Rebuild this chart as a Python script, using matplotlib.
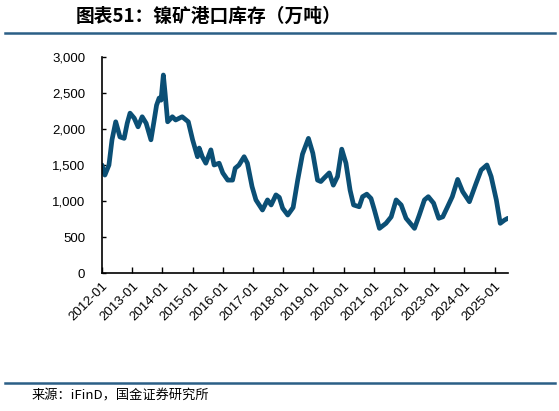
import matplotlib
matplotlib.use("Agg")
import matplotlib.pyplot as plt
import matplotlib.dates as mdates
import pandas as pd

dates = ["2012-01-01", "2012-02-05", "2012-03-25", "2012-05-01", "2012-06-15",
         "2012-08-05", "2012-09-25", "2012-11-01", "2012-12-05",
         "2013-01-25", "2013-03-12", "2013-05-01", "2013-06-18", "2013-08-15",
         "2013-09-20", "2013-10-22", "2013-11-22", "2013-12-15",
         "2014-01-12", "2014-02-02", "2014-03-05", "2014-05-01", "2014-06-10",
         "2014-08-28", "2014-11-10",
         "2015-01-01", "2015-03-01", "2015-03-22", "2015-04-28", "2015-06-10",
         "2015-08-10", "2015-09-18", "2015-11-18",
         "2016-01-01", "2016-03-01", "2016-04-28", "2016-05-30", "2016-07-15",
         "2016-09-15", "2016-10-25", "2016-12-20",
         "2017-02-05", "2017-04-25", "2017-06-25", "2017-08-08", "2017-10-05",
         "2017-11-15", "2017-12-25",
         "2018-02-25", "2018-05-01", "2018-06-25", "2018-08-22", "2018-11-02",
         "2018-12-25",
         "2019-02-20", "2019-04-01", "2019-05-12", "2019-07-12", "2019-08-30",
         "2019-10-20", "2019-12-10",
         "2020-01-30", "2020-03-20", "2020-05-01", "2020-07-08", "2020-08-18",
         "2020-10-08", "2020-11-28",
         "2021-01-08", "2021-03-10", "2021-05-28", "2021-07-30", "2021-09-28",
         "2021-11-28",
         "2022-01-26", "2022-05-08", "2022-07-05", "2022-09-05", "2022-10-22",
         "2022-12-25",
         "2023-02-25", "2023-04-15", "2023-06-12", "2023-08-08", "2023-10-12",
         "2023-12-12",
         "2024-03-02", "2024-05-22", "2024-07-22", "2024-09-30", "2024-11-20",
         "2025-01-22", "2025-03-10", "2025-05-01", "2025-06-10"]

inventory = [1500, 1360, 1500, 1850, 2100,
             1890, 1870, 2080, 2220,
             2150, 2030, 2170, 2080, 1850,
             2100, 2330, 2430, 2400,
             2750, 2500, 2100, 2170, 2125,
             2170, 2100,
             1850, 1615, 1735, 1615, 1525,
             1710, 1500, 1525,
             1390, 1290, 1290, 1455, 1500,
             1615, 1525, 1200,
             1015, 875, 1015, 945, 1085,
             1050, 900,
             805, 910, 1290, 1650, 1870,
             1665,
             1290, 1270, 1320, 1390, 1220,
             1340, 1720,
             1525, 1150, 945, 920, 1060,
             1095, 1035,
             875, 620, 690, 780, 1015,
             945,
             760, 620, 805, 1015, 1060,
             970,
             760, 780, 920, 1060, 1300,
             1130,
             990, 1245, 1430, 1500, 1340,
             1015, 690, 735, 760]

tick_years = list(range(2012, 2026))
title_text = "图表51：镍矿港口库存（万吨）"
source_text = "来源：iFinD，国金证券研究所"

plt.rcParams['font.family'] = ['Liberation Sans', 'Noto Sans CJK SC', 'DejaVu Sans']

fig = plt.figure(figsize=(5.59, 4.11), dpi=100)
ax = fig.add_axes([102/559, 1-273/411, (508-102)/559, (273-57)/411])

x = pd.to_datetime(dates)
ax.plot(x, inventory, color='#0B4F75', linewidth=3.4, solid_joinstyle='round',
        solid_capstyle='round')

ax.set_ylim(0, 3000)
ax.set_yticks(range(0, 3001, 500))
ax.yaxis.set_major_formatter(matplotlib.ticker.FuncFormatter(lambda v, p: f"{int(v):,}"))
ax.set_xlim(pd.Timestamp("2012-01-01"), pd.Timestamp("2025-06-12"))
ticks = [pd.Timestamp(f"{y}-01-01") for y in tick_years]
ax.set_xticks(ticks)
ax.set_xticklabels([f"{y}-01" for y in tick_years], rotation=45, ha='right',
                   rotation_mode='anchor')
ax.tick_params(axis='x', direction='in', length=4, width=1, labelsize=9.5, pad=5)
ax.tick_params(axis='y', direction='in', length=3, width=1, labelsize=9.5, pad=12)
for s in ['top', 'right']:
    ax.spines[s].set_visible(False)
for s in ['left', 'bottom']:
    ax.spines[s].set_linewidth(1.2)
    ax.spines[s].set_color('black')

fig.text(76/559, 1-16/411, title_text, fontsize=13.5, fontweight='bold',
         family=['Noto Sans CJK SC', 'DejaVu Sans'], ha='left', va='center',
         style='italic')
fig.add_artist(plt.Line2D([5/559, 555/559], [1-33/411, 1-33/411],
                          color='#2B5F86', linewidth=1.8))
fig.add_artist(plt.Line2D([5/559, 555/559], [1-383/411, 1-383/411],
                          color='#2B5F86', linewidth=1.8))
fig.text(32/559, 1-396/411, source_text, fontsize=9.5,
         family=['Noto Sans CJK SC', 'DejaVu Sans'], ha='left', va='center')

fig.savefig("out.png", dpi=100)
